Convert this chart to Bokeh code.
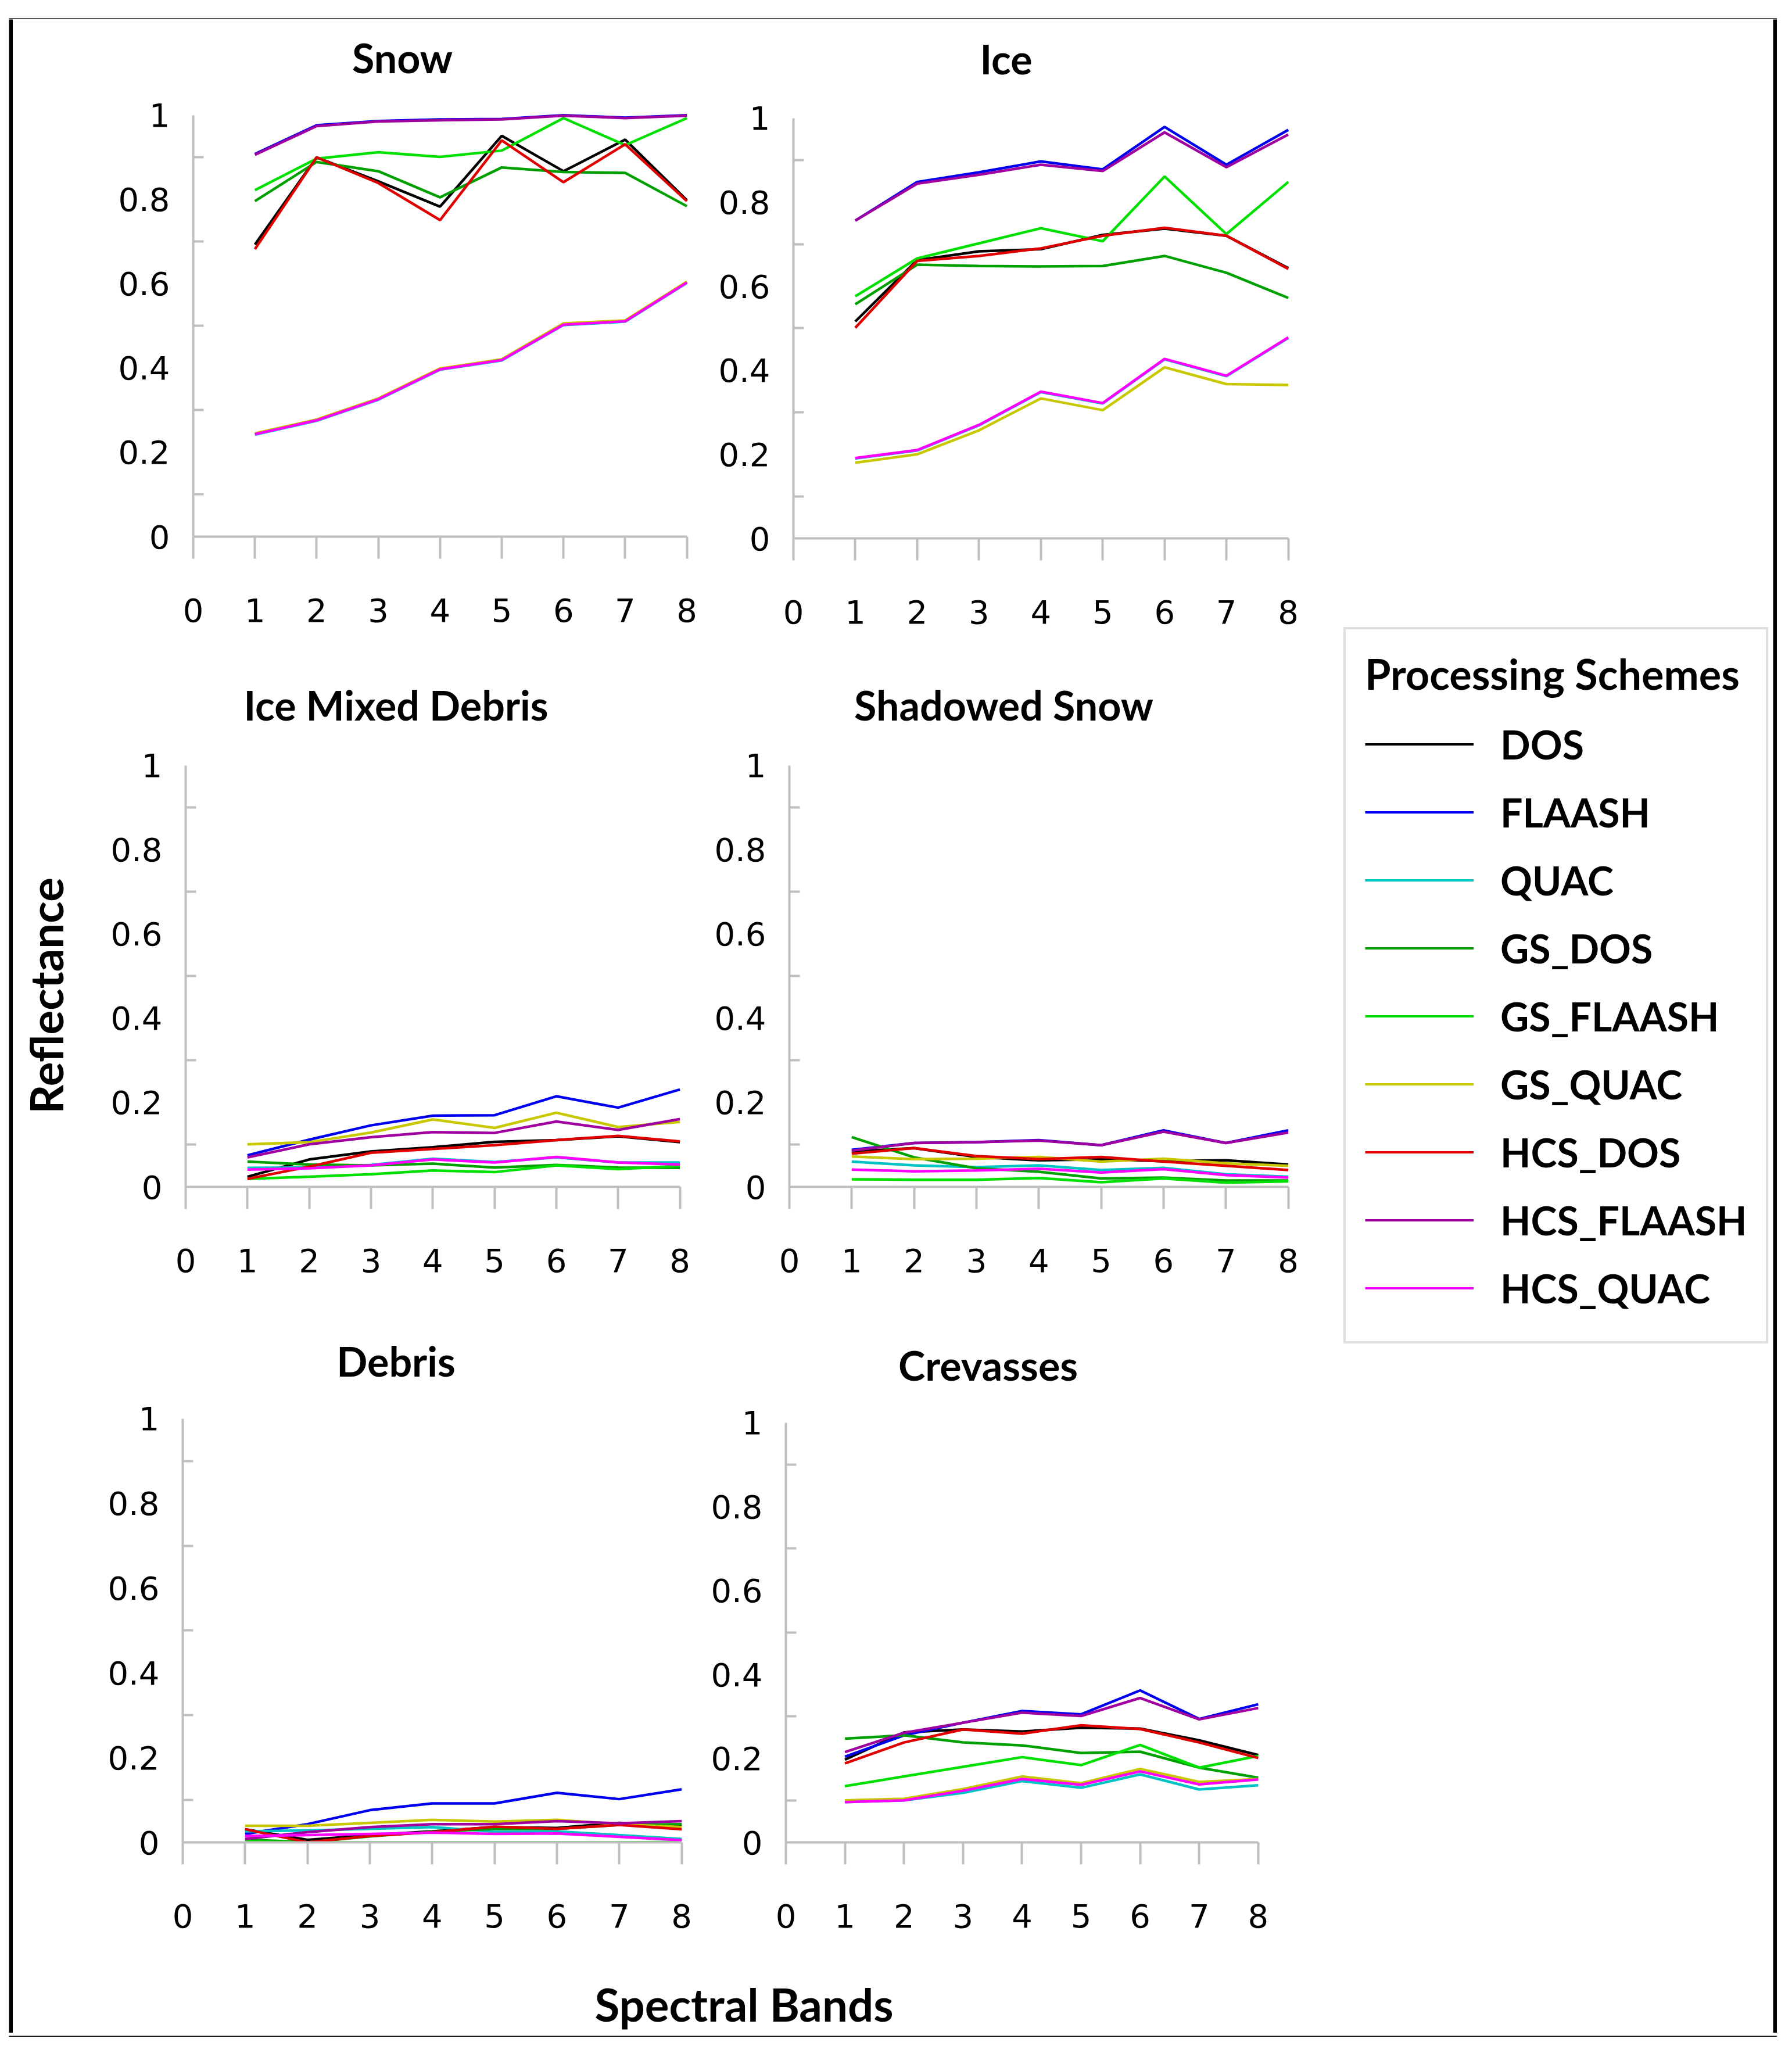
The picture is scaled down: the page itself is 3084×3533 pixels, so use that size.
import math
from bokeh.plotting import figure
from bokeh.layouts import row, column
from bokeh.models import FixedTicker, Legend, LegendItem, Spacer, Range1d
from bokeh.core.properties import value
from bokeh.embed import file_html
from bokeh.resources import INLINE

# ---------------- data ----------------
bands = [1, 2, 3, 4, 5, 6, 7, 8]
schemes = ["DOS", "FLAASH", "QUAC", "GS_DOS", "GS_FLAASH", "GS_QUAC",
           "HCS_DOS", "HCS_FLAASH", "HCS_QUAC"]
colors = ["#000000", "#0000F0", "#00C4C4", "#00A000", "#00E000", "#C8C800",
          "#E00000", "#A000A0", "#FF00FF"]
x_ticks = [0, 1, 2, 3, 4, 5, 6, 7, 8]
y_ticks = [0, 0.2, 0.4, 0.6, 0.8, 1.0]
y_tick_labels = ["0", "0.2", "0.4", "0.6", "0.8", "1"]
y_minor_ticks = [0.1, 0.3, 0.5, 0.7, 0.9]

# Snow
snow_dos = [0.693, 0.900, 0.843, 0.783, 0.951, 0.867, 0.942, 0.798]
snow_flaash = [0.908, 0.976, 0.986, 0.990, 0.991, 1.000, 0.994, 1.000]
snow_quac = [0.242, 0.275, 0.325, 0.396, 0.418, 0.502, 0.510, 0.602]
snow_gs_dos = [0.796, 0.889, 0.867, 0.805, 0.876, 0.865, 0.863, 0.784]
snow_gs_flaash = [0.822, 0.897, 0.912, 0.901, 0.916, 0.993, 0.929, 0.993]
snow_gs_quac = [0.245, 0.278, 0.328, 0.399, 0.421, 0.506, 0.513, 0.605]
snow_hcs_dos = [0.682, 0.900, 0.839, 0.751, 0.940, 0.841, 0.931, 0.796]
snow_hcs_flaash = [0.906, 0.974, 0.985, 0.988, 0.990, 0.999, 0.993, 0.999]
snow_hcs_quac = [0.243, 0.276, 0.326, 0.397, 0.419, 0.503, 0.511, 0.603]

# Ice
ice_dos = [0.516, 0.662, 0.683, 0.688, 0.722, 0.737, 0.720, 0.643]
ice_flaash = [0.756, 0.848, 0.871, 0.897, 0.878, 0.979, 0.889, 0.972]
ice_quac = [0.190, 0.209, 0.269, 0.348, 0.321, 0.426, 0.386, 0.477]
ice_gs_dos = [0.557, 0.651, 0.648, 0.647, 0.648, 0.672, 0.632, 0.572]
ice_gs_flaash = [0.576, 0.666, 0.702, 0.738, 0.707, 0.861, 0.724, 0.848]
ice_gs_quac = [0.180, 0.200, 0.257, 0.333, 0.305, 0.407, 0.367, 0.365]
ice_hcs_dos = [0.501, 0.660, 0.672, 0.690, 0.720, 0.739, 0.720, 0.641]
ice_hcs_flaash = [0.756, 0.844, 0.865, 0.889, 0.874, 0.966, 0.883, 0.961]
ice_hcs_quac = [0.191, 0.210, 0.270, 0.349, 0.322, 0.427, 0.387, 0.478]

# Ice Mixed Debris
imd_dos = [0.024, 0.065, 0.084, 0.094, 0.107, 0.111, 0.120, 0.106]
imd_flaash = [0.075, 0.112, 0.146, 0.169, 0.170, 0.215, 0.188, 0.231]
imd_quac = [0.045, 0.046, 0.052, 0.067, 0.059, 0.070, 0.058, 0.058]
imd_gs_dos = [0.060, 0.053, 0.051, 0.055, 0.046, 0.052, 0.046, 0.045]
imd_gs_flaash = [0.019, 0.024, 0.030, 0.039, 0.035, 0.051, 0.042, 0.050]
imd_gs_quac = [0.101, 0.106, 0.129, 0.160, 0.140, 0.176, 0.142, 0.154]
imd_hcs_dos = [0.019, 0.048, 0.081, 0.090, 0.099, 0.111, 0.121, 0.108]
imd_hcs_flaash = [0.070, 0.101, 0.118, 0.130, 0.128, 0.155, 0.135, 0.161]
imd_hcs_quac = [0.041, 0.044, 0.051, 0.065, 0.058, 0.071, 0.058, 0.053]

# Shadowed Snow
ss_dos = [0.084, 0.092, 0.071, 0.063, 0.065, 0.061, 0.063, 0.053]
ss_flaash = [0.088, 0.104, 0.106, 0.111, 0.099, 0.134, 0.104, 0.134]
ss_quac = [0.060, 0.051, 0.047, 0.051, 0.040, 0.045, 0.030, 0.024]
ss_gs_dos = [0.118, 0.070, 0.044, 0.036, 0.020, 0.022, 0.015, 0.015]
ss_gs_flaash = [0.018, 0.017, 0.017, 0.021, 0.011, 0.020, 0.010, 0.013]
ss_gs_quac = [0.072, 0.066, 0.067, 0.071, 0.060, 0.067, 0.056, 0.050]
ss_hcs_dos = [0.079, 0.092, 0.073, 0.066, 0.071, 0.060, 0.050, 0.040]
ss_hcs_flaash = [0.086, 0.104, 0.106, 0.110, 0.099, 0.131, 0.104, 0.129]
ss_hcs_quac = [0.041, 0.037, 0.039, 0.043, 0.034, 0.042, 0.028, 0.022]

# Debris
deb_dos = [0.031, 0.006, 0.017, 0.026, 0.036, 0.034, 0.046, 0.039]
deb_flaash = [0.020, 0.043, 0.076, 0.092, 0.092, 0.117, 0.102, 0.125]
deb_quac = [0.026, 0.028, 0.032, 0.036, 0.025, 0.026, 0.017, 0.008]
deb_gs_dos = [0.007, 0.000, 0.014, 0.025, 0.032, 0.032, 0.041, 0.043]
deb_gs_flaash = [0.002, 0.000, 0.000, 0.000, 0.000, 0.000, 0.000, 0.001]
deb_gs_quac = [0.039, 0.039, 0.046, 0.053, 0.049, 0.053, 0.043, 0.036]
deb_hcs_dos = [0.031, 0.000, 0.015, 0.024, 0.037, 0.032, 0.041, 0.031]
deb_hcs_flaash = [0.008, 0.024, 0.036, 0.043, 0.043, 0.050, 0.045, 0.050]
deb_hcs_quac = [0.015, 0.017, 0.020, 0.023, 0.020, 0.021, 0.013, 0.005]

# Crevasses
crev_dos = [0.197, 0.262, 0.269, 0.264, 0.273, 0.271, 0.243, 0.208]
crev_flaash = [0.204, 0.255, 0.285, 0.313, 0.305, 0.362, 0.294, 0.329]
crev_quac = [0.096, 0.100, 0.118, 0.146, 0.130, 0.162, 0.126, 0.136]
crev_gs_dos = [0.247, 0.255, 0.238, 0.231, 0.213, 0.216, 0.178, 0.154]
crev_gs_flaash = [0.134, 0.157, 0.180, 0.203, 0.184, 0.232, 0.178, 0.206]
crev_gs_quac = [0.100, 0.104, 0.127, 0.157, 0.141, 0.175, 0.144, 0.151]
crev_hcs_dos = [0.188, 0.238, 0.269, 0.259, 0.279, 0.270, 0.238, 0.201]
crev_hcs_flaash = [0.215, 0.261, 0.285, 0.309, 0.301, 0.344, 0.293, 0.320]
crev_hcs_quac = [0.096, 0.100, 0.123, 0.151, 0.137, 0.169, 0.138, 0.150]

panel_titles = ["Snow", "Ice", "Ice Mixed Debris", "Shadowed Snow", "Debris", "Crevasses"]
panel_series = [
    [snow_dos, snow_flaash, snow_quac, snow_gs_dos, snow_gs_flaash, snow_gs_quac,
     snow_hcs_dos, snow_hcs_flaash, snow_hcs_quac],
    [ice_dos, ice_flaash, ice_quac, ice_gs_dos, ice_gs_flaash, ice_gs_quac,
     ice_hcs_dos, ice_hcs_flaash, ice_hcs_quac],
    [imd_dos, imd_flaash, imd_quac, imd_gs_dos, imd_gs_flaash, imd_gs_quac,
     imd_hcs_dos, imd_hcs_flaash, imd_hcs_quac],
    [ss_dos, ss_flaash, ss_quac, ss_gs_dos, ss_gs_flaash, ss_gs_quac,
     ss_hcs_dos, ss_hcs_flaash, ss_hcs_quac],
    [deb_dos, deb_flaash, deb_quac, deb_gs_dos, deb_gs_flaash, deb_gs_quac,
     deb_hcs_dos, deb_hcs_flaash, deb_hcs_quac],
    [crev_dos, crev_flaash, crev_quac, crev_gs_dos, crev_gs_flaash, crev_gs_quac,
     crev_hcs_dos, crev_hcs_flaash, crev_hcs_quac],
]

# ---------------- style / layout ----------------
BOLD_FONT = "Lato"
TICK_FONT = "DejaVu Sans"
AXIS_GRAY = "#BFBFBF"

# (width, title strip height, title offset from frame left (px), title y,
#  panel height, border left, right, top, bottom)
geom = [
    (1073, 130, 360, 65, 949, 198, 19, 26, 189),
    (1045, 130, 366, 63, 949, 158, 29, 31, 186),
    (1073, 150, 362, 50, 990, 185, 31, 46, 210),
    (1045, 150, 369, 50, 990, 151, 29, 46, 210),
    (1073, 140, 367, 51, 960, 180, 28, 40, 182),
    (1045, 140, 348, 44, 960, 145, 81, 47, 182),
]


def blank(w, h, bg="white"):
    b = figure(width=w, height=h, x_range=Range1d(0, w), y_range=Range1d(0, h),
               output_backend="svg", toolbar_location=None, min_border=0,
               x_axis_location=None, y_axis_location=None,
               background_fill_color=bg, border_fill_color=bg, outline_line_color=None)
    b.grid.visible = False
    return b


def make_panel(title, series, g):
    w, th, tx, ty, h, bl, br, bt, bb = g
    head = blank(w, th)
    head.text(x=[0], y=[ty], x_offset=tx, text=[title], text_align="center",
              text_baseline="middle", text_font=value(BOLD_FONT),
              text_font_style="bold", text_font_size="70px", text_color="black")

    p = figure(width=w, height=h, x_range=Range1d(0, 8.06), y_range=Range1d(0, 1.012),
               output_backend="svg", toolbar_location=None,
               min_border_left=bl, min_border_right=br, min_border_top=bt,
               min_border_bottom=bb, outline_line_color=None,
               background_fill_color="white", border_fill_color="white")
    p.grid.visible = False
    for vals, col in zip(series, colors):
        p.line(bands, vals, line_color=col, line_width=4.5)

    xa = p.xaxis[0]
    xa.ticker = FixedTicker(ticks=x_ticks, minor_ticks=[])
    xa.bounds = (0, 8)
    ya = p.yaxis[0]
    ya.ticker = FixedTicker(ticks=y_ticks, minor_ticks=y_minor_ticks)
    ya.bounds = (0, 1)
    ya.major_label_overrides = {t: s for t, s in zip(y_ticks, y_tick_labels)}
    for ax in (xa, ya):
        ax.axis_line_color = AXIS_GRAY
        ax.axis_line_width = 4
        ax.major_tick_line_color = AXIS_GRAY
        ax.major_tick_line_width = 4
        ax.minor_tick_line_color = AXIS_GRAY
        ax.minor_tick_line_width = 4
        ax.major_label_text_font = TICK_FONT
        ax.major_label_text_font_size = "56px"
        ax.major_label_text_color = "black"
    xa.major_tick_in = 0
    xa.major_tick_out = 38
    xa.minor_tick_in = 0
    xa.minor_tick_out = 0
    xa.major_label_standoff = 68
    ya.major_tick_in = 0
    ya.major_tick_out = 0
    ya.minor_tick_in = 18
    ya.minor_tick_out = 0
    ya.major_label_standoff = 40
    return column(head, p)


cells = [make_panel(t, s, g) for t, s, g in zip(panel_titles, panel_series, geom)]

# y axis title strip
refl = blank(112, 3465)
refl.text(x=[56], y=[1785], text=["Reflectance"], angle=math.pi / 2,
          text_align="center", text_baseline="middle",
          text_font=value(BOLD_FONT), text_font_style="bold",
          text_font_size="78px", text_color="black")

# x axis title strip
sb = blank(2118, 146)
sb.text(x=[1146], y=[50], text=["Spectral Bands"], text_align="center",
        text_baseline="middle", text_font=value(BOLD_FONT),
        text_font_style="bold", text_font_size="78px", text_color="black")

# legend column (legend renderers carry data but stay hidden)
lg = blank(799, 3465)
items = []
for name, col, vals in zip(schemes, colors, panel_series[0]):
    r = lg.line(x=bands, y=vals, line_color=col, line_width=4, visible=False)
    items.append(LegendItem(label=name, renderers=[r]))
legend = Legend(items=items, location=(60, 1186), title="Processing Schemes",
                title_text_font=BOLD_FONT, title_text_font_style="bold",
                title_text_font_size="72px", title_text_color="black",
                title_standoff=20,
                label_text_font=BOLD_FONT, label_text_font_style="bold",
                label_text_font_size="68px", label_text_color="black",
                label_standoff=46,
                glyph_width=187, glyph_height=117, label_height=117,
                spacing=0, padding=33, margin=0,
                inactive_fill_alpha=0.0,
                border_line_color=AXIS_GRAY, border_line_width=4,
                background_fill_color="white", background_fill_alpha=1.0)
lg.add_layout(legend)

grid = column(row(cells[0], cells[1]), row(cells[2], cells[3]),
              row(cells[4], cells[5]), sb)
content = row(refl, grid, lg)

page = column(
    Spacer(width=10, height=26),
    row(Spacer(width=15, height=7), blank(3043, 7, "black")),
    row(Spacer(width=15, height=3465), blank(7, 3465, "black"), content,
        blank(7, 3465, "black")),
    row(Spacer(width=15, height=7), blank(3043, 7, "black")),
)

open("out.html", "w").write(file_html(page, INLINE))
